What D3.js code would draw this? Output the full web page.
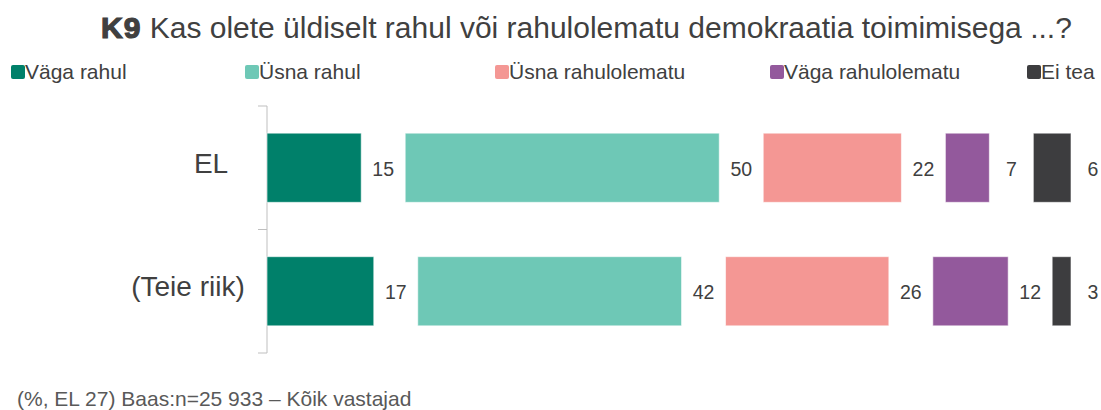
<!DOCTYPE html>
<html>
<head>
<meta charset="utf-8">
<script src="https://cdn.jsdelivr.net/npm/d3@7"></script>
<style>
  body { margin: 0; background: #fff; }
  text { font-family: "Liberation Sans", Arial, sans-serif; fill: #404040; }
</style>
</head>
<body>
<div id="chart"></div>
<script>
// Data
var categories = ["EL", "(Teie riik)"];
var seriesNames = ["Väga rahul", "Üsna rahul", "Üsna rahulolematu", "Väga rahulolematu", "Ei tea"];
var valuesEL = [15, 50, 22, 7, 6];
var valuesCountry = [17, 42, 26, 12, 3];
var rows = [valuesEL, valuesCountry];

var colors = ["#00806a", "#6ec8b6", "#f49794", "#93599c", "#3d3d3f"];

var width = 1101, height = 410;
var gap = 7; // space left for value labels, in percent units

var svg = d3.select("#chart")
  .append("svg")
  .attr("width", width)
  .attr("height", height);

// Title
var title = svg.append("text")
  .attr("x", 101)
  .attr("y", 38)
  .style("font-size", "30px");
title.append("tspan")
  .style("font-weight", "bold")
  .style("stroke", "#404040")
  .style("stroke-width", 1.2)
  .style("letter-spacing", "1px")
  .text("K9");
title.append("tspan").text(" Kas olete üldiselt rahul või rahulolematu demokraatia toimimisega ...?");

// Legend
var legendX = [11, 245, 495, 770, 1027];
var legend = svg.append("g").attr("class", "legend")
  .selectAll("g")
  .data(seriesNames)
  .enter()
  .append("g")
  .attr("transform", function(d, i) { return "translate(" + legendX[i] + ",65)"; });

legend.append("rect")
  .attr("width", 14)
  .attr("height", 14)
  .attr("rx", 2)
  .style("fill", function(d, i) { return colors[i]; });

legend.append("text")
  .attr("x", 14)
  .attr("y", 14)
  .style("font-size", "21px")
  .text(function(d) { return d; });

// Scales
var x = d3.scaleLinear()
  .domain([0, 100 + gap * (seriesNames.length - 1)])
  .range([267, 1071]);

var y = d3.scaleBand()
  .domain(categories)
  .range([106, 353])
  .paddingInner(0.44)
  .paddingOuter(0.22);

// Axis line with ticks between categories
var axis = svg.append("g").attr("class", "axis");
axis.append("line")
  .attr("x1", x(0)).attr("x2", x(0))
  .attr("y1", y.range()[0]).attr("y2", y.range()[1])
  .style("stroke", "#bfbfbf");

var tickYs = [y.range()[0], y(categories[0]) + y.bandwidth() + y.step() * y.paddingInner() / 2, y.range()[1]];
axis.selectAll(".tick")
  .data(tickYs)
  .enter()
  .append("line")
  .attr("x1", x(0) - 9).attr("x2", x(0))
  .attr("y1", function(d) { return d; })
  .attr("y2", function(d) { return d; })
  .style("stroke", "#bfbfbf");

// Category labels
var labelCenters = [211, 188];
svg.selectAll(".cat")
  .data(categories)
  .enter()
  .append("text")
  .attr("class", "cat")
  .attr("x", function(d, i) { return labelCenters[i]; })
  .attr("y", function(d) { return y(d) + y.bandwidth() / 2 + 5; })
  .style("font-size", "28px")
  .style("text-anchor", "middle")
  .text(function(d) { return d; });

// Segments: each one starts after the previous one plus a gap for its label
var segments = [];
rows.forEach(function(vals, r) {
  var start = 0;
  vals.forEach(function(v, i) {
    segments.push({ cat: categories[r], series: i, start: start, value: v });
    start += v + gap;
  });
});

svg.append("g")
  .selectAll("rect")
  .data(segments)
  .enter()
  .append("rect")
  .attr("x", function(d) { return x(d.start); })
  .attr("y", function(d) { return y(d.cat); })
  .attr("width", function(d) { return x(d.start + d.value) - x(d.start); })
  .attr("height", y.bandwidth())
  .style("fill", function(d) { return colors[d.series]; })
  .style("stroke", "rgba(255,255,255,0.6)")
  .style("stroke-width", 1);

svg.append("g")
  .selectAll("text")
  .data(segments)
  .enter()
  .append("text")
  .attr("x", function(d) { return x(d.start + d.value + gap / 2); })
  .attr("y", function(d) { return y(d.cat) + y.bandwidth() / 2 + 8; })
  .style("font-size", "19.5px")
  .style("text-anchor", "middle")
  .text(function(d) { return d.value; });

// Footnote
svg.append("text")
  .attr("x", 17)
  .attr("y", 406)
  .style("font-size", "21px")
  .style("fill", "#595959")
  .text("(%, EL 27) Baas:n=25 933 – Kõik vastajad");
</script>
</body>
</html>
